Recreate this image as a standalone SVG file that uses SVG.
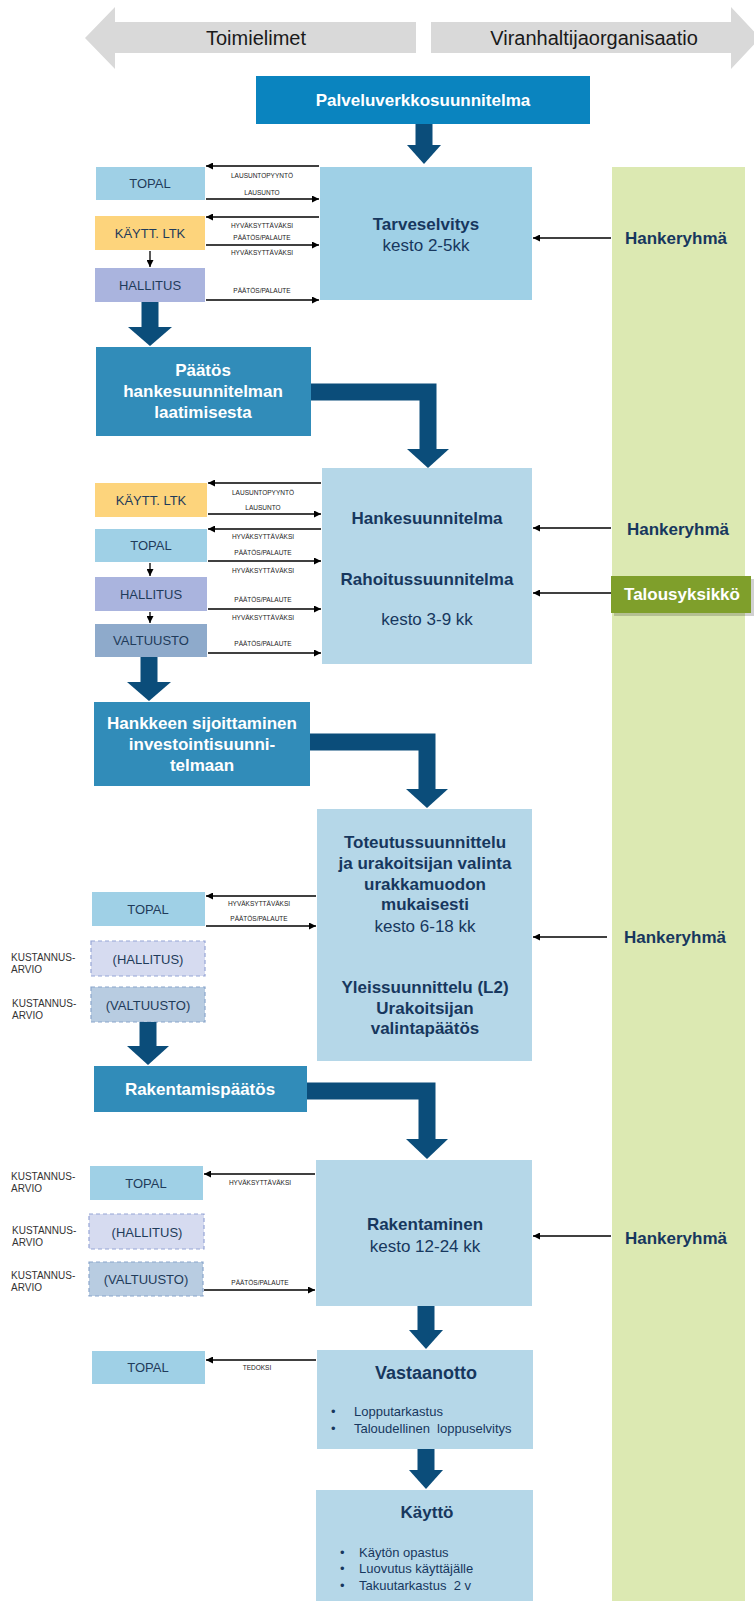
<svg xmlns="http://www.w3.org/2000/svg" width="754" height="1601" viewBox="0 0 754 1601">
<defs>
<marker id="ah" viewBox="0 0 10 10" refX="10" refY="5" markerWidth="8" markerHeight="7" markerUnits="userSpaceOnUse" orient="auto">
<path d="M0,0 L10,5 L0,10 z" fill="#000"/>
</marker>
<style>
text{font-family:"Liberation Sans",Arial,sans-serif}
.hdr{font-size:20px;fill:#1a1a1a;text-anchor:middle}
.nv{fill:#17375e;text-anchor:middle}
.b17{font-size:17px;font-weight:bold}
.r17{font-size:17px}
.wt{fill:#fff;text-anchor:middle;font-size:17px;font-weight:bold}
.sm{font-size:13px;fill:#1f3b5a;text-anchor:middle}
.lb{font-size:6.5px;fill:#222;text-anchor:middle}
.ku{font-size:10px;fill:#333}
.bl{font-size:13px;fill:#17375e}
.thin{stroke:#000;stroke-width:1.3;fill:none;marker-end:url(#ah)}
.thk{stroke:#0b4d7a;stroke-width:17;fill:none}
.hd{fill:#0b4d7a}
.topal{fill:#9fd0e6}
.ltk{fill:#fdd47c}
.hal{fill:#aab4de}
.val{fill:#8eaacb}
.dh{fill:#d6dbf0;stroke:#96a5d6;stroke-width:1.2;stroke-dasharray:4 3}
.dv{fill:#b8cce1;stroke:#8aa6cc;stroke-width:1.2;stroke-dasharray:4 3}
.lt{fill:#b5d7e8}
.mid{fill:#318cb9}
</style>
</defs>

<g id="header">
<polygon points="85,38 115,7 115,22 416,22 416,53 115,53 115,69" fill="#d9d9d9"/>
<text class="hdr" x="256" y="45">Toimielimet</text>
<polygon points="431,22 731,22 731,7 760,38 731,69 731,53 431,53" fill="#d9d9d9"/>
<text class="hdr" x="594" y="45">Viranhaltijaorganisaatio</text>
</g>

<g id="green-column">
<rect x="612" y="167" width="133" height="1434" fill="#dce9b2"/>
</g>

<g id="palveluverkko">
<rect x="256" y="76" width="334" height="48" fill="#0a84bf"/>
<text class="wt" x="423" y="106">Palveluverkkosuunnitelma</text>
</g>

<g id="tarveselvitys">
<rect x="320" y="167" width="212" height="133" fill="#9fd0e6"/>
<text class="nv b17" x="426" y="230">Tarveselvitys</text>
<text class="nv r17" x="426" y="251">kesto 2-5kk</text>
</g>

<g id="topal1"><rect class="topal" x="96" y="167" width="109" height="33"/><text class="sm" x="150" y="188">TOPAL</text></g>
<g id="ltk1"><rect class="ltk" x="95" y="216" width="110" height="34"/><text class="sm" x="150" y="238">KÄYTT.  LTK</text></g>
<g id="hallitus1"><rect class="hal" x="95" y="268" width="110" height="34"/><text class="sm" x="150" y="290">HALLITUS</text></g>

<g id="hankeryhma1"><text class="nv b17" x="676" y="244">Hankeryhmä</text></g>

<g id="paatos">
<rect class="mid" x="96" y="347" width="215" height="89"/>
<text class="wt" x="203" y="376">Päätös</text>
<text class="wt" x="203" y="397">hankesuunnitelman</text>
<text class="wt" x="203" y="418">laatimisesta</text>
</g>

<g id="hankesuunnitelma">
<rect class="lt" x="322" y="468" width="210" height="196"/>
<text class="nv b17" x="427" y="524">Hankesuunnitelma</text>
<text class="nv b17" x="427" y="585">Rahoitussuunnitelma</text>
<text class="nv r17" x="427" y="625">kesto 3-9 kk</text>
</g>

<g id="ltk2"><rect class="ltk" x="95" y="483" width="112" height="34"/><text class="sm" x="151" y="505">KÄYTT.  LTK</text></g>
<g id="topal2"><rect class="topal" x="95" y="529" width="112" height="33"/><text class="sm" x="151" y="550">TOPAL</text></g>
<g id="hallitus2"><rect class="hal" x="95" y="577" width="112" height="34"/><text class="sm" x="151" y="599">HALLITUS</text></g>
<g id="valtuusto2"><rect class="val" x="95" y="624" width="112" height="33"/><text class="sm" x="151" y="645">VALTUUSTO</text></g>

<g id="hankeryhma2"><text class="nv b17" x="678" y="535">Hankeryhmä</text></g>
<g id="talousyksikko">
<rect x="614" y="579" width="140" height="37" fill="#000" opacity="0.18"/>
<rect x="611" y="576" width="140" height="37" fill="#7f9f2b"/>
<text class="wt" x="682" y="600">Talousyksikkö</text>
</g>

<g id="hankkeen">
<rect class="mid" x="94" y="702" width="216" height="84"/>
<text class="wt" x="202" y="729">Hankkeen sijoittaminen</text>
<text class="wt" x="202" y="750">investointisuunni-</text>
<text class="wt" x="202" y="771">telmaan</text>
</g>

<g id="toteutus">
<rect class="lt" x="317" y="809" width="215" height="252"/>
<text class="nv b17" x="425" y="848">Toteutussuunnittelu</text>
<text class="nv b17" x="425" y="869">ja urakoitsijan valinta</text>
<text class="nv b17" x="425" y="890">urakkamuodon</text>
<text class="nv b17" x="425" y="910">mukaisesti</text>
<text class="nv r17" x="425" y="932">kesto 6-18 kk</text>
<text class="nv b17" x="425" y="993">Yleissuunnittelu (L2)</text>
<text class="nv b17" x="425" y="1014">Urakoitsijan</text>
<text class="nv b17" x="425" y="1034">valintapäätös</text>
</g>

<g id="topal3"><rect class="topal" x="92" y="892" width="113" height="34"/><text class="sm" x="148" y="914">TOPAL</text></g>
<g id="hallitus3"><rect class="dh" x="91" y="941" width="114" height="35"/><text class="sm" x="148" y="964">(HALLITUS)</text></g>
<g id="valtuusto3"><rect class="dv" x="91" y="987" width="114" height="35"/><text class="sm" x="148" y="1010">(VALTUUSTO)</text></g>
<g id="kust3">
<text class="ku" x="11" y="961">KUSTANNUS-</text><text class="ku" x="11" y="973">ARVIO</text>
<text class="ku" x="12" y="1007">KUSTANNUS-</text><text class="ku" x="12" y="1019">ARVIO</text>
</g>
<g id="hankeryhma3"><text class="nv b17" x="675" y="943">Hankeryhmä</text></g>

<g id="rakentamispaatos">
<rect class="mid" x="94" y="1066" width="213" height="46"/>
<text class="wt" x="200" y="1095">Rakentamispäätös</text>
</g>

<g id="rakentaminen">
<rect class="lt" x="316" y="1160" width="216" height="146"/>
<text class="nv b17" x="425" y="1230">Rakentaminen</text>
<text class="nv r17" x="425" y="1252">kesto 12-24 kk</text>
</g>

<g id="topal4"><rect class="topal" x="90" y="1166" width="113" height="34"/><text class="sm" x="146" y="1188">TOPAL</text></g>
<g id="hallitus4"><rect class="dh" x="89" y="1214" width="115" height="35"/><text class="sm" x="147" y="1237">(HALLITUS)</text></g>
<g id="valtuusto4"><rect class="dv" x="89" y="1262" width="114" height="34"/><text class="sm" x="146" y="1284">(VALTUUSTO)</text></g>
<g id="kust4">
<text class="ku" x="11" y="1180">KUSTANNUS-</text><text class="ku" x="11" y="1192">ARVIO</text>
<text class="ku" x="12" y="1234">KUSTANNUS-</text><text class="ku" x="12" y="1246">ARVIO</text>
<text class="ku" x="11" y="1279">KUSTANNUS-</text><text class="ku" x="11" y="1291">ARVIO</text>
</g>
<g id="hankeryhma4"><text class="nv b17" x="676" y="1244">Hankeryhmä</text></g>

<g id="vastaanotto">
<rect class="lt" x="317" y="1350" width="216" height="99"/>
<text class="nv" x="426" y="1379" style="font-size:18px;font-weight:bold">Vastaanotto</text>
<text class="bl" x="331" y="1416">•</text><text class="bl" x="354" y="1416">Lopputarkastus</text>
<text class="bl" x="331" y="1433">•</text><text class="bl" x="354" y="1433" xml:space="preserve">Taloudellinen  loppuselvitys</text>
</g>
<g id="topal5"><rect class="topal" x="92" y="1351" width="113" height="33"/><text class="sm" x="148" y="1372">TOPAL</text></g>

<g id="kaytto">
<rect class="lt" x="316" y="1490" width="217" height="111"/>
<text class="nv b17" x="427" y="1518">Käyttö</text>
<text class="bl" x="340" y="1557">•</text><text class="bl" x="359" y="1557">Käytön opastus</text>
<text class="bl" x="340" y="1573">•</text><text class="bl" x="359" y="1573">Luovutus käyttäjälle</text>
<text class="bl" x="340" y="1590">•</text><text class="bl" x="359" y="1590" xml:space="preserve">Takuutarkastus  2 v</text>
</g>

<g id="connectors">
<path class="thk" d="M424,124 V146"/><polygon class="hd" points="407,145 441,145 424,164"/>
<path class="thk" d="M150,302 V328"/><polygon class="hd" points="128,327 172,327 150,346"/>
<path class="thk" d="M311,392 H428 V450"/><polygon class="hd" points="407,449 449,449 428,468"/>
<path class="thk" d="M149,657 V683"/><polygon class="hd" points="127,682 171,682 149,701"/>
<path class="thk" d="M310,742 H427 V790"/><polygon class="hd" points="406,789 448,789 427,808"/>
<path class="thk" d="M148,1022 V1047"/><polygon class="hd" points="127,1046 169,1046 148,1065"/>
<path class="thk" d="M307,1091 H427 V1140"/><polygon class="hd" points="406,1139 448,1139 427,1159"/>
<path class="thk" d="M426,1306 V1331"/><polygon class="hd" points="409,1330 443,1330 426,1349"/>
<path class="thk" d="M426,1449 V1471"/><polygon class="hd" points="409,1470 443,1470 426,1489"/>

<path class="thin" d="M319,166 H206"/><text class="lb" x="262" y="178">LAUSUNTOPYYNTÖ</text>
<path class="thin" d="M206,199 H319"/><text class="lb" x="262" y="195">LAUSUNTO</text>
<path class="thin" d="M319,217 H206"/><text class="lb" x="262" y="228">HYVÄKSYTTÄVÄKSI</text>
<text class="lb" x="262" y="240">PÄÄTÖS/PALAUTE</text>
<path class="thin" d="M206,245 H319"/><text class="lb" x="262" y="255">HYVÄKSYTTÄVÄKSI</text>
<text class="lb" x="262" y="293">PÄÄTÖS/PALAUTE</text>
<path class="thin" d="M206,300 H319"/>
<path class="thin" d="M150,251 V267"/>
<path class="thin" d="M611,238 H533"/>

<path class="thin" d="M321,483 H208"/><text class="lb" x="263" y="495">LAUSUNTOPYYNTÖ</text>
<path class="thin" d="M208,514 H321"/><text class="lb" x="263" y="510">LAUSUNTO</text>
<path class="thin" d="M321,529 H208"/><text class="lb" x="263" y="539">HYVÄKSYTTÄVÄKSI</text>
<text class="lb" x="263" y="555">PÄÄTÖS/PALAUTE</text>
<path class="thin" d="M208,561 H321"/><text class="lb" x="263" y="573">HYVÄKSYTTÄVÄKSI</text>
<text class="lb" x="263" y="602">PÄÄTÖS/PALAUTE</text>
<path class="thin" d="M208,609 H321"/><text class="lb" x="263" y="620">HYVÄKSYTTÄVÄKSI</text>
<text class="lb" x="263" y="646">PÄÄTÖS/PALAUTE</text>
<path class="thin" d="M208,653 H321"/>
<path class="thin" d="M150,563 V576"/>
<path class="thin" d="M150,612 V623"/>
<path class="thin" d="M611,528 H533"/>
<path class="thin" d="M611,593 H533"/>

<path class="thin" d="M316,896 H206"/><text class="lb" x="259" y="906">HYVÄKSYTTÄVÄKSI</text>
<text class="lb" x="259" y="921">PÄÄTÖS/PALAUTE</text>
<path class="thin" d="M206,926 H316"/>
<path class="thin" d="M607,937 H533"/>

<path class="thin" d="M315,1174 H204"/><text class="lb" x="260" y="1185">HYVÄKSYTTÄVÄKSI</text>
<text class="lb" x="260" y="1285">PÄÄTÖS/PALAUTE</text>
<path class="thin" d="M204,1290 H315"/>
<path class="thin" d="M611,1236 H533"/>

<path class="thin" d="M316,1360 H206"/><text class="lb" x="257" y="1370">TEDOKSI</text>
</g>
</svg>
